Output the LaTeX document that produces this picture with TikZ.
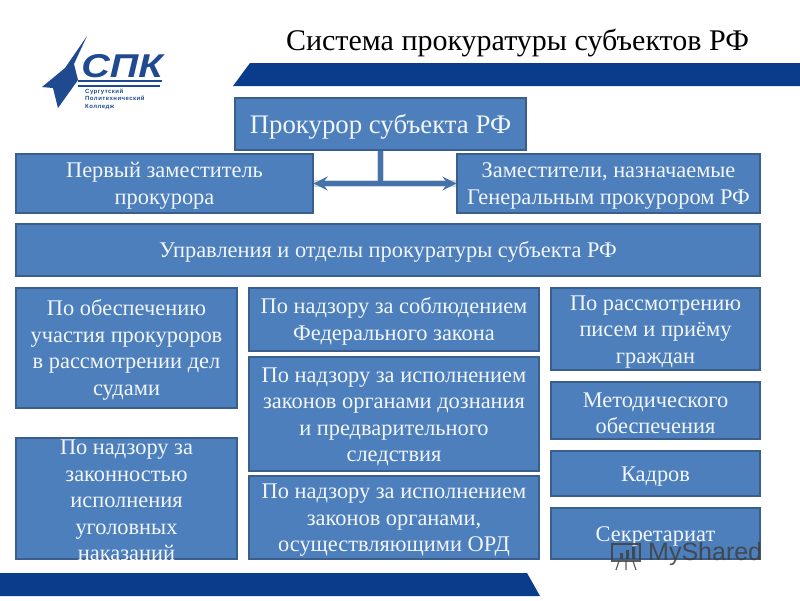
\documentclass[tikz,border=0pt]{standalone}
\usepackage{fontspec}
\setmainfont{Liberation Serif}
\setsansfont{Liberation Sans}
\definecolor{boxblue}{HTML}{4D7FBC}
\definecolor{boxline}{HTML}{3A5F8C}
\definecolor{bandblue}{HTML}{0A3C8C}
\definecolor{logoblue}{HTML}{1F4A8F}
\definecolor{boxtext}{HTML}{F2F6FA}
\newcommand{\dn}{\rule{0pt}{20pt}}
\tikzset{
  org/.style={draw=boxline,line width=1.2pt,fill=boxblue,text=boxtext,inner sep=0pt,align=center,font=\fontsize{22.4}{26.5}\selectfont},
  link/.style={draw=boxblue!90!black,line width=5pt},
  linkshade/.style={draw=boxline!40,line width=7pt,opacity=.6}
}
\begin{document}
\begin{tikzpicture}
[x=1pt,y=-1pt]
\useasboundingbox (0,0) rectangle (800,600);

% bands
\fill[bandblue] (233,86) -- (250,63) -- (800,63) -- (800,86) -- cycle;
\fill[bandblue] (0,573) -- (527,573) -- (540,596) -- (0,596) -- cycle;

% logo
\fill[logoblue] (87,36) -- (65,68) -- (42,87) -- (53,88) -- (58,108) -- (78,80) -- (74,64) -- cycle;
\fill[logoblue] (78,80) rectangle (162,82);
\fill[logoblue] (78,85) rectangle (160,87);
\node[text=logoblue,font=\sffamily\bfseries\itshape\fontsize{33}{33}\selectfont,inner sep=0pt] (logo) at (122,66) {\scalebox{1.2}[1]{СПК}};
\node[text=logoblue,anchor=north west,align=left,inner sep=0pt,font=\sffamily\bfseries\fontsize{6}{7.2}\selectfont] (college) at (85,89) {\addfontfeature{LetterSpace=8}Сургутский\\\addfontfeature{LetterSpace=8}Политехнический\\\addfontfeature{LetterSpace=8}Колледж};

% title
\node[font=\fontsize{30}{32}\selectfont,inner sep=0pt] (title) at (517.5,43) {Система прокуратуры субъектов РФ};

\node[org,minimum width=291pt,minimum height=52pt,font=\fontsize{26.8}{30}\selectfont] (v1) at (380.5,124) {\rule{0pt}{24pt}Прокурор субъекта РФ};
\node[org,minimum width=297pt,minimum height=59pt] (v2) at (164.5,183.5) {\dn Первый заместитель\\прокурора};
\node[org,minimum width=303pt,minimum height=59pt] (v3) at (608.5,183.5) {\dn Заместители, назначаемые\\Генеральным прокурором РФ};
\node[org,minimum width=744pt,minimum height=52pt] (v4) at (388,250) {\dn Управления и отделы прокуратуры субъекта РФ};

\node[org,minimum width=221pt,minimum height=120pt] (v5) at (126.5,348) {\dn По обеспечению\\участия прокуроров\\в рассмотрении дел\\судами};
\node[org,minimum width=221pt,minimum height=121pt] (v6) at (126.5,498.5) {};
\node[org,draw=none,fill=none] (v6text) at (126.5,500.5) {По надзору за\\законностью\\исполнения\\уголовных\\наказаний};

\node[org,minimum width=290pt,minimum height=63pt] (v7) at (394,319.5) {\dn По надзору за соблюдением\\Федерального закона};
\node[org,minimum width=290pt,minimum height=114pt] (v8) at (394,414) {\dn По надзору за исполнением\\законов органами дознания\\и предварительного\\следствия};
\node[org,minimum width=290pt,minimum height=83pt] (v9) at (394,517.5) {\dn По надзору за исполнением\\законов органами,\\осуществляющими ОРД};

\node[org,minimum width=209pt,minimum height=82pt] (v10) at (655.5,329) {\dn По рассмотрению\\писем и приёму\\граждан};
\node[org,minimum width=209pt,minimum height=57pt] (v11) at (655.5,410.5) {\dn Методического\\обеспечения};
\node[org,minimum width=209pt,minimum height=45pt] (v12) at (655.5,473.5) {\dn Кадров};
\node[org,minimum width=209pt,minimum height=51pt] (v13) at (655.5,533.5) {\dn Секретариат};

\coordinate (c1) at (380.5,183.5);

\draw[linkshade] (v1) -- (c1);
\draw[linkshade] (v2) -- (v3);
\draw[link] (v1) -- (c1);
\draw[link,<->,>=stealth] (v2) -- (v3);

% watermark
\node[text=black!75,opacity=.85,font=\sffamily\fontsize{25}{25}\selectfont,inner sep=0pt,anchor=west] (mark) at (648,554) {MyShared};
\draw[black!75,opacity=.85,line width=1.4pt] (612,544) rectangle (640,561);
\fill[black!75,opacity=.85] (620,553) rectangle (623,559) (626,550) rectangle (629,559) (632,547) rectangle (635,559);
\draw[black!75,opacity=.85,line width=1.2pt] (619,561) -- (616,570) (626,561) -- (626,570) (633,561) -- (636,570);
\end{tikzpicture}
\end{document}
